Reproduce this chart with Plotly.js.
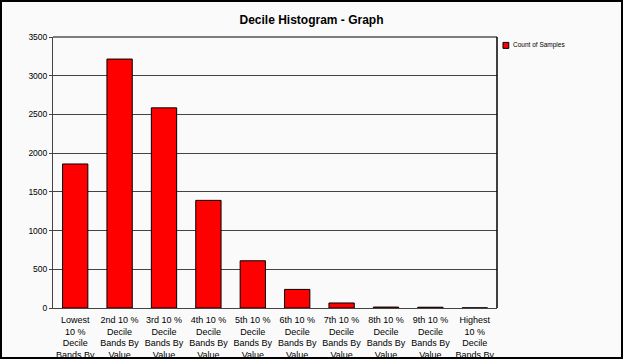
<!DOCTYPE html>
<html>
<head>
<meta charset="utf-8">
<script src="https://cdn.plot.ly/plotly-3.0.1.min.js"></script>
<style>
html,body{margin:0;padding:0;background:#fff;}
#chart{width:623px;height:359px;box-sizing:border-box;border:2px solid #000;overflow:hidden;}
</style>
</head>
<body>
<div id="chart"></div>
<script>
const categories = [
  "Lowest<br>10 %<br>Decile<br>Bands By<br>Value",
  "2nd 10 %<br>Decile<br>Bands By<br>Value",
  "3rd 10 %<br>Decile<br>Bands By<br>Value",
  "4th 10 %<br>Decile<br>Bands By<br>Value",
  "5th 10 %<br>Decile<br>Bands By<br>Value",
  "6th 10 %<br>Decile<br>Bands By<br>Value",
  "7th 10 %<br>Decile<br>Bands By<br>Value",
  "8th 10 %<br>Decile<br>Bands By<br>Value",
  "9th 10 %<br>Decile<br>Bands By<br>Value",
  "Highest<br>10 %<br>Decile<br>Bands By<br>Value"
];
const countOfSamples = [1860, 3215, 2585, 1390, 610, 240, 65, 12, 10, 2];
const seriesName = "Count of Samples";
const chartTitle = "Decile Histogram - Graph";
const yTicks = [0, 500, 1000, 1500, 2000, 2500, 3000, 3500];

const trace = {
  type: 'bar',
  x: categories,
  y: countOfSamples,
  name: seriesName,
  showlegend: false,
  marker: {color: '#ff0000', line: {color: '#000000', width: 1}}
};

const layout = {
  width: 619, height: 355,
  margin: {l: 51, r: 124, t: 35, b: 49},
  paper_bgcolor: '#fafafa',
  plot_bgcolor: '#fafafa',
  font: {family: 'Liberation Sans, Arial, sans-serif', color: '#000', size: 9},
  title: {text: chartTitle, x: 0.5, xref: 'container', xanchor: 'center',
          y: 1 - 18/355, yref: 'container', yanchor: 'middle',
          font: {size: 12, color: '#000', family: 'Liberation Sans, Arial, sans-serif', weight: 'bold'}},
  bargap: 0.43,
  xaxis: {
    type: 'category', automargin: false, showgrid: false,
    showline: true, linecolor: '#444', linewidth: 1, mirror: false,
    ticks: '', tickfont: {size: 9}, ticklabelstandoff: 3, fixedrange: true
  },
  yaxis: {
    range: [0, 3500], tickvals: yTicks, automargin: false,
    showgrid: true, gridcolor: '#444', gridwidth: 1,
    showline: true, linecolor: '#444', linewidth: 1, mirror: false,
    ticks: 'outside', ticklen: 3, tickcolor: '#444',
    tickfont: {size: 8.5}, zeroline: false, fixedrange: true
  },
  shapes: [
    {type: 'line', xref: 'paper', yref: 'paper', x0: 1, x1: 1, y0: 0, y1: 1, line: {color: '#000', width: 1.5}},
    {type: 'line', xref: 'paper', yref: 'paper', x0: 0, x1: 1, y0: 1, y1: 1, line: {color: '#000', width: 1}},
    {type: 'rect', xref: 'paper', yref: 'paper', x0: 1.0135, x1: 1.0265, y0: 0.958, y1: 0.980,
     fillcolor: '#ff0000', line: {color: '#000', width: 1}}
  ],
  annotations: [
    {xref: 'paper', yref: 'paper', x: 1.031, y: 0.969, xanchor: 'left', yanchor: 'middle',
     text: seriesName, showarrow: false, font: {size: 6.5, color: '#000'}}
  ]
};

Plotly.newPlot('chart', [trace], layout, {displayModeBar: false, staticPlot: true});
</script>
</body>
</html>
